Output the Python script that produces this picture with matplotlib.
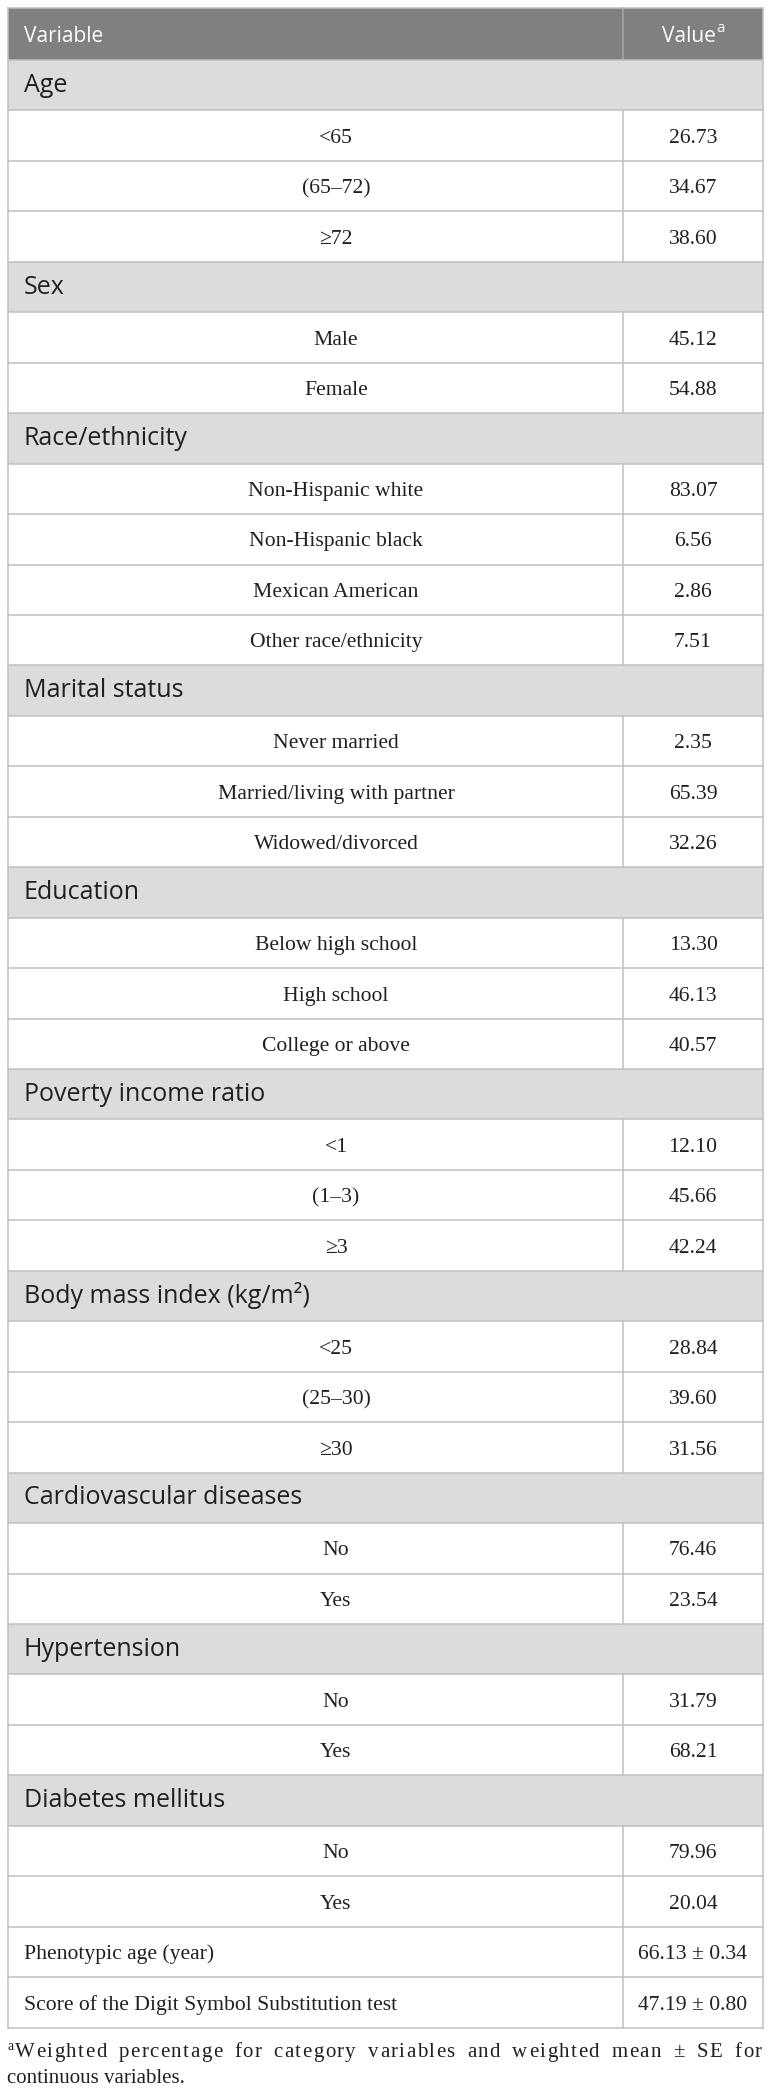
import matplotlib
matplotlib.use("Agg")
import matplotlib.pyplot as plt
from matplotlib.patches import Rectangle
from matplotlib.font_manager import FontProperties

# ---------------- data ----------------
header_variable = "Variable"
header_value = "Value"
header_value_sup = "a"

sections = [
    "Age", "Sex", "Race/ethnicity", "Marital status", "Education",
    "Poverty income ratio", "Body mass index (kg/m\u00b2)",
    "Cardiovascular diseases", "Hypertension", "Diabetes mellitus",
]
sub_labels = [
    ["<65", "(65\u201372)", "\u226572"],
    ["Male", "Female"],
    ["Non-Hispanic white", "Non-Hispanic black", "Mexican American", "Other race/ethnicity"],
    ["Never married", "Married/living with partner", "Widowed/divorced"],
    ["Below high school", "High school", "College or above"],
    ["<1", "(1\u20133)", "\u22653"],
    ["<25", "(25\u201330)", "\u226530"],
    ["No", "Yes"],
    ["No", "Yes"],
    ["No", "Yes"],
]
sub_values = [
    ["26.73", "34.67", "38.60"],
    ["45.12", "54.88"],
    ["83.07", "6.56", "2.86", "7.51"],
    ["2.35", "65.39", "32.26"],
    ["13.30", "46.13", "40.57"],
    ["12.10", "45.66", "42.24"],
    ["28.84", "39.60", "31.56"],
    ["76.46", "23.54"],
    ["31.79", "68.21"],
    ["79.96", "20.04"],
]
continuous_labels = ["Phenotypic age (year)", "Score of the Digit Symbol Substitution test"]
continuous_values = ["66.13 \u00b1 0.34", "47.19 \u00b1 0.80"]

footnote_sup = "a"
footnote_line1 = "Weighted percentage for category variables and weighted mean \u00b1 SE for"
footnote_line2 = "continuous variables."

# ---------------- layout ----------------
W, H = 772, 2091
fig = plt.figure(figsize=(W / 100, H / 100), dpi=100)
fig.patch.set_facecolor("white")
ax = fig.add_axes([0, 0, 1, 1])
ax.set_xlim(0, W)
ax.set_ylim(H, 0)
ax.axis("off")

x0, x1, xdiv = 8, 763, 623
top = 7.5
header_h = 52.5
row_h = 50.45
sub_cx = 336
val_cx = 693

header_bg = "#808080"
section_bg = "#dcdcdc"
line_col = "#c0c0c0"
text_col = "#231f20"
lw = 1.1

sans = ["Open Sans", "DejaVu Sans"]
serif = ["Liberation Serif", "DejaVu Serif"]
fs_header = 15
fs_section = 18
fs_body = 15.6
fs_foot = 15

renderer = fig.canvas.get_renderer()

def text_width(s, family, size):
    fp = FontProperties(family=family, size=size)
    w, h, d = renderer.get_text_width_height_descent(s, fp, ismath=False)
    return w

# header
ax.add_patch(Rectangle((x0, top), x1 - x0, header_h, facecolor=header_bg, edgecolor="none", zorder=1))
ax.plot([xdiv, xdiv], [top, top + header_h], color="#a6a6a6", lw=lw, zorder=2)
ax.text(x0 + 15.5, top + 34.2, header_variable, family=sans, fontsize=fs_header,
        color="white", va="baseline", ha="left")
sup_fs = fs_header * 0.72
wv = text_width(header_value, sans, fs_header)
ws = text_width(header_value_sup, sans, sup_fs)
vx = val_cx - (wv + ws) / 2
ax.text(vx, top + 34.2, header_value, family=sans, fontsize=fs_header,
        color="white", va="baseline", ha="left")
ax.text(vx + wv + 0.5, top + 25.0, header_value_sup, family=sans, fontsize=sup_fs,
        color="white", va="baseline", ha="left")

y = top + header_h
row_edges = [top, y]

def draw_data_row(y, label, value, centered=True):
    if centered:
        ax.text(sub_cx, y + 32.4, label, family=serif, fontsize=fs_body, color=text_col,
                va="baseline", ha="center")
    else:
        ax.text(x0 + 15.5, y + 32.4, label, family=serif, fontsize=fs_body, color=text_col,
                va="baseline", ha="left")
    ax.text(val_cx, y + 32.4, value, family=serif, fontsize=fs_body, color=text_col,
            va="baseline", ha="center")
    ax.plot([xdiv, xdiv], [y, y + row_h], color=line_col, lw=lw, zorder=2)

for sec, labs, vals in zip(sections, sub_labels, sub_values):
    ax.add_patch(Rectangle((x0, y), x1 - x0, row_h, facecolor=section_bg, edgecolor="none", zorder=1))
    ax.text(x0 + 15.5, y + 31.7, sec, family=sans, fontsize=fs_section, color=text_col,
            va="baseline", ha="left")
    y += row_h
    row_edges.append(y)
    for lab, val in zip(labs, vals):
        draw_data_row(y, lab, val)
        y += row_h
        row_edges.append(y)

for lab, val in zip(continuous_labels, continuous_values):
    draw_data_row(y, lab, val, centered=False)
    y += row_h
    row_edges.append(y)

bottom = y
for e in row_edges[1:]:
    ax.plot([x0, x1], [e, e], color=line_col, lw=lw, zorder=3)
ax.plot([x0, x1], [top, top], color=line_col, lw=lw, zorder=3)
ax.plot([x0, x0], [top, bottom], color=line_col, lw=lw, zorder=3)
ax.plot([x1, x1], [top, bottom], color=line_col, lw=lw, zorder=3)

# footnote (justified first line)
fy1 = bottom + 29
fy2 = bottom + 55
ax.text(7, fy1 - 6.5, footnote_sup, family=serif, fontsize=fs_foot * 0.65, color=text_col,
        va="baseline", ha="left")
start, end = 15, 762
chars = list(footnote_line1)
widths = [text_width(c, serif, fs_foot) for c in chars]
natural = sum(widths)
n_gaps = len(chars) - 1
n_spaces = chars.count(" ")
extra = end - start - natural
t = extra / (n_gaps + 3 * n_spaces)
xc = start
for c, w in zip(chars, widths):
    if c != " ":
        ax.text(xc, fy1, c, family=serif, fontsize=fs_foot, color=text_col,
                va="baseline", ha="left")
    xc += w + t + (3 * t if c == " " else 0)
ax.text(7, fy2, footnote_line2, family=serif, fontsize=fs_foot, color=text_col,
        va="baseline", ha="left")

fig.savefig("out.png", dpi=100, facecolor="white")
